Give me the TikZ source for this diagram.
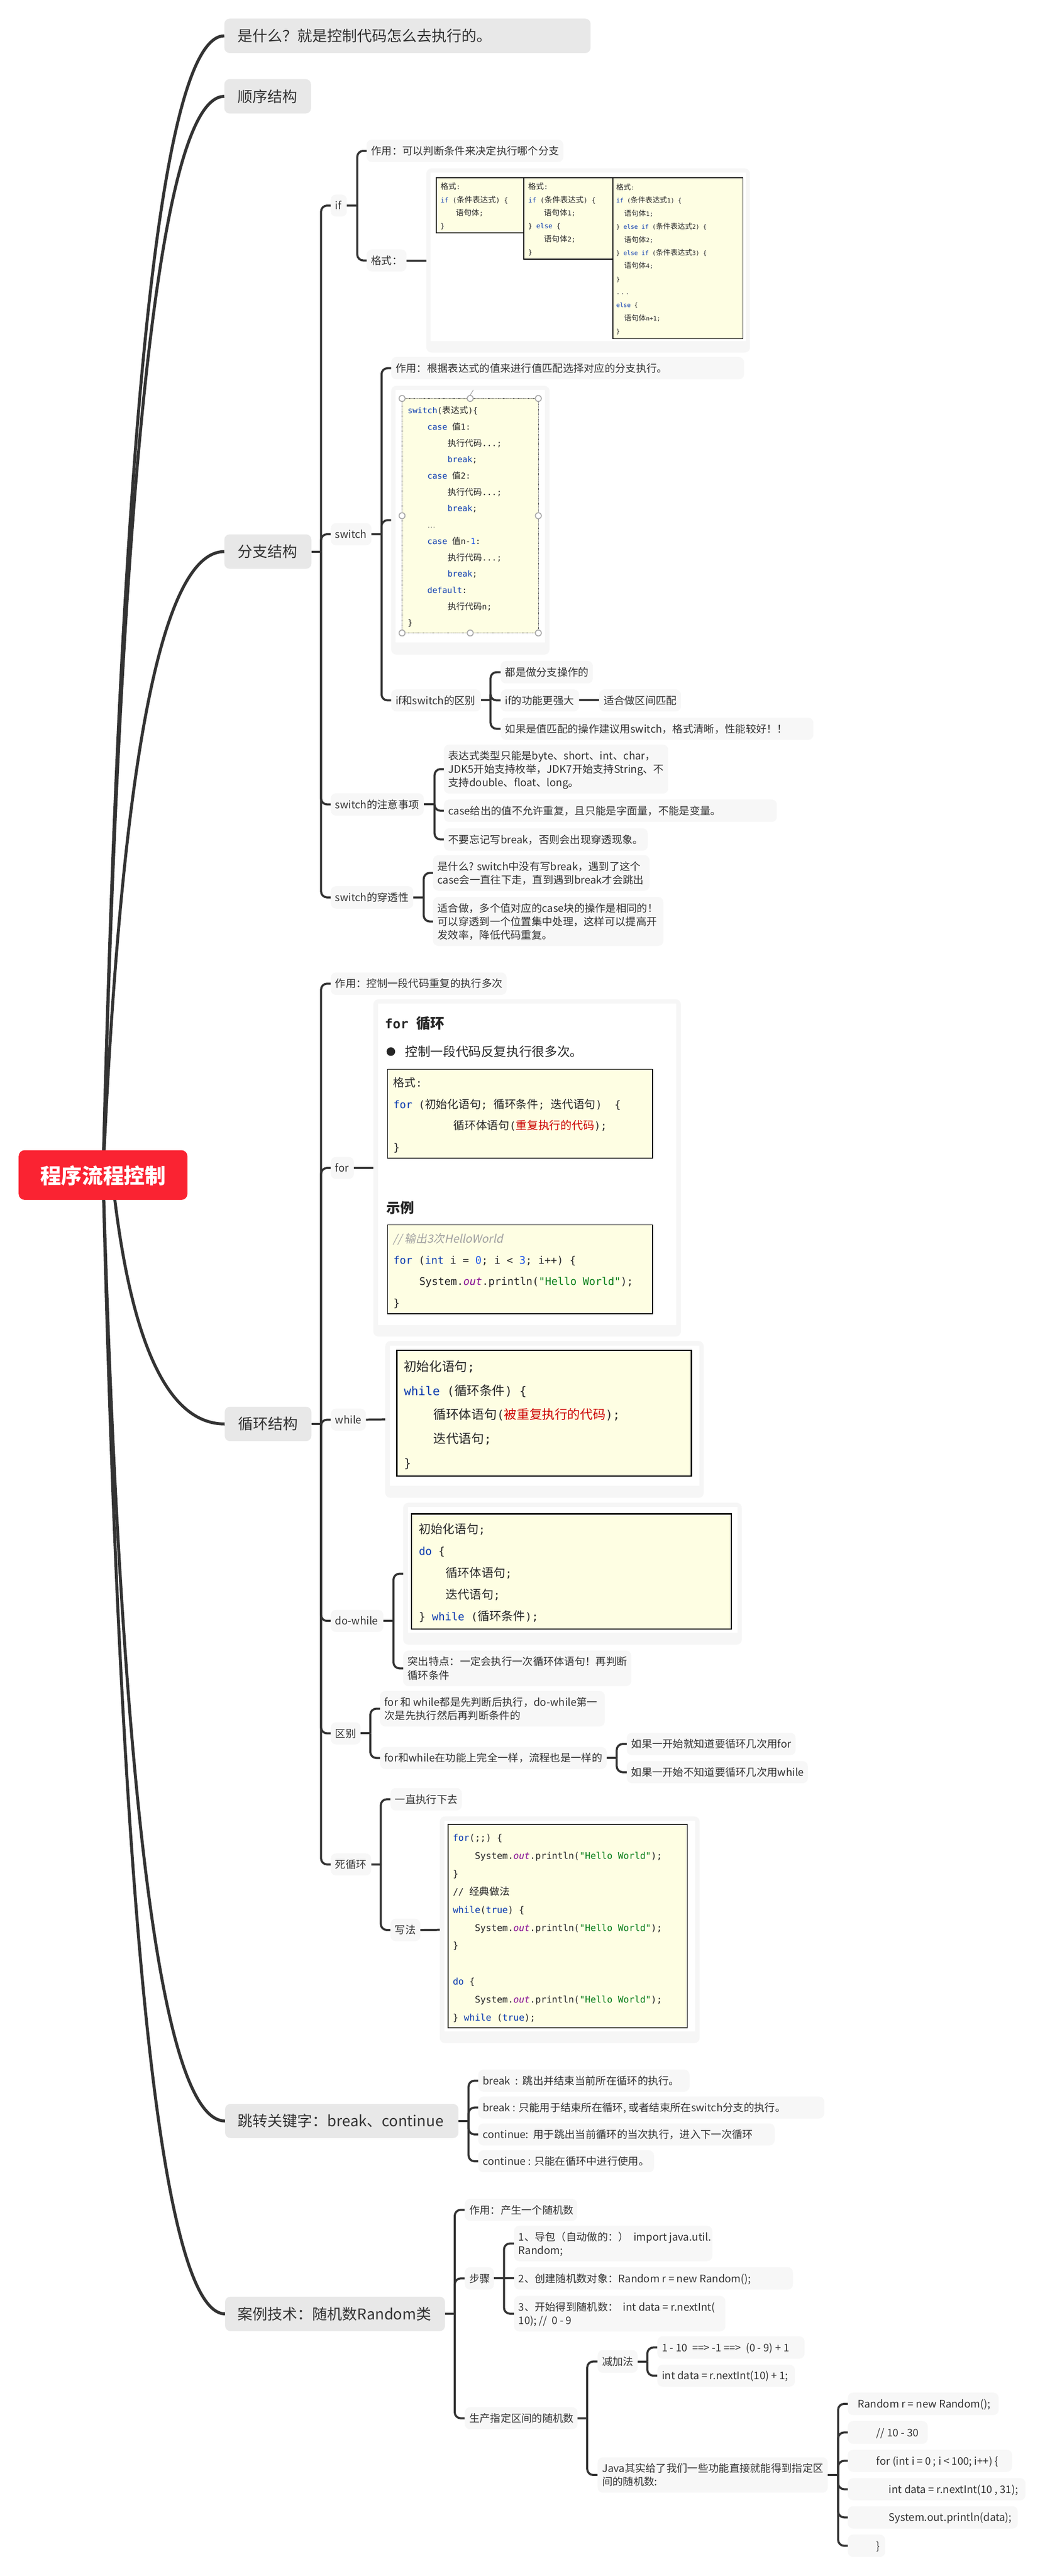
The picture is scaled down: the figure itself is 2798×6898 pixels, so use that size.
\documentclass[tikz,border=0pt]{standalone}
\usepackage{fontspec}
\usetikzlibrary{calc,backgrounds}
\setmainfont{Noto Sans CJK SC}
\newfontfamily\monof{DejaVu Sans Mono}
\newfontfamily\slantf[FakeSlant=0.2]{Noto Sans CJK SC}
\definecolor{ink}{HTML}{333333}
\definecolor{lvone}{HTML}{E8E8E8}
\definecolor{lvtwo}{HTML}{F7F7F7}
\definecolor{framec}{HTML}{F6F6F6}
\definecolor{rootc}{HTML}{FA2332}
\definecolor{yel}{HTML}{FEFEE3}
\definecolor{kw}{HTML}{0B3BB0}
\definecolor{strc}{HTML}{067D17}
\definecolor{outc}{HTML}{871094}
\definecolor{numc}{HTML}{1750EB}
\definecolor{redc}{HTML}{CC0000}
\definecolor{cmt}{HTML}{A0A0A0}
\newcommand\Cco{\char"FF1A\relax}
\newcommand\Ccm{\char"FF0C\relax}
\newcommand\Cex{\char"FF01\relax}
\newcommand\Cqu{\char"FF1F\relax}
\newcommand\Clp{\char"FF08\relax}
\newcommand\Crp{\char"FF09\relax}
\def\mfs{22}
\def\ndex{0}
\newcommand\M[1]{{\monof\fontsize{\mfs}{\mfs}\selectfont #1}}
\newcommand\K[1]{\textcolor{kw}{\M{#1}}}
\newcommand\St[1]{\textcolor{strc}{\M{#1}}}
\newcommand\Ou[1]{\textcolor{outc}{\M{\itshape #1}}}
\newcommand\Nu[1]{\textcolor{numc}{\M{#1}}}
\newcommand\I[1]{\hspace*{#1pt}}
\newsavebox\ndbox
\makeatletter
\newcommand\nd[8][12]{%
  \pgfmathsetmacro\ndw{#5-#3}\pgfmathsetmacro\ndh{#6-#4}%
  \pgfmathsetmacro\ndx{(#3+#5)/2}\pgfmathsetmacro\ndy{(#4+#6)/2}%
  \pgfmathsetmacro\ndt{#5-#3-2*#1}%
  \node[#7,inner xsep=#1pt,inner ysep=0pt,outer sep=0pt,minimum width=\ndw pt,minimum height=\ndh pt] (#2) at (\ndx,\ndy)
  {\sbox\ndbox{\begin{tabular}{@{}l@{}}#8\end{tabular}}\makebox[\ndt pt][l]{\raisebox{\dimexpr .5\dp\ndbox-.5\ht\ndbox-0.38\dimexpr\f@size pt\relax+0.2\baselineskip-\ndex pt\relax}[0pt][0pt]{\usebox\ndbox}}};%
}
\makeatother
\newcommand\conn[3]{\draw[link] (#1.east) -- ++(#3,0); \draw[link,rounded corners=16pt] (#1.east) ++(#3,0) |- (#2.west);}
\newcommand\sconn[2]{\draw[link] (#1.east) -- (#2.west);}
\newcommand\rootcurve[4]{\draw[rootlink] (#1) .. controls ($(#1)!0.667!(#3,#4)$) and ($(#2.west)!0.667!(#3,#4)$) .. (#2.west);}
\tikzset{
  link/.style={draw=ink,line width=5.5pt},
  rootlink/.style={draw=ink,line width=8pt},
  leaf/.style={fill=lvtwo,rounded corners=14pt,text=ink,font=\fontsize{28}{36}\selectfont},
  big/.style={fill=lvone,rounded corners=14pt,text=ink,font=\fontsize{40}{48}\selectfont},
  rootn/.style={fill=rootc,rounded corners=16pt,text=white,font=\fontsize{56}{66}\selectfont\bfseries},
  framen/.style={fill=framec,rounded corners=14pt},
  whiten/.style={fill=white},
  code/.style={fill=yel,draw=black,line width=#1,text=black!85},
  handle/.style={circle,fill=white,draw=black!35,line width=2.5pt,minimum size=16pt,inner sep=0pt},
  plainn/.style={text=black!85},
}
\begin{document}
\begin{tikzpicture}[x=1pt,y=-1pt]
\useasboundingbox (0,0) rectangle (2798,6898);
% root and first level
\nd[58]{root}{50}{3080}{502}{3213}{rootn}{程序流程控制}
\coordinate (rs) at (276,3146);
\coordinate (rl) at (300,3146);
\nd[36]{a1}{601}{50}{1582}{142}{big}{是什么\Cqu 就是控制代码怎么去执行的。}
\nd[36]{a2}{601}{212}{833}{304}{big}{顺序结构}
\nd[36]{a3}{601}{1431}{834}{1523}{big}{分支结构}
\nd[36]{a4}{602}{3767}{834}{3859}{big}{循环结构}
\nd[34]{a5}{603}{5634}{1228}{5725}{big}{跳转关键字\Cco break、continue}
\nd[34]{a6}{603}{6150}{1192}{6242}{big}{案例技术\Cco 随机数Random类}
% if
\nd{ifn}{886}{521}{929}{580}{leaf}{if}
\nd{ifa}{982}{374}{1509}{434}{leaf}{作用\Cco 可以判断条件来决定执行哪个分支}
\nd{ifb}{982}{668}{1089}{727}{leaf}{格式\Cco}
\nd[0]{iff}{1142}{451}{2009}{944}{framen}{}
\nd[0]{ifw}{1154}{462}{1998}{913}{whiten}{}
\def\mfs{18}\def\ndex{2}
\nd[11]{c1}{1169}{476}{1403}{624}{code=2.5pt,font=\fontsize{21}{35}\selectfont}{格式\M{:}\\\K{if}\M{\ (}条件表达式\M{)\ \{}\\\I{41}语句体\M{;}\\\M{\}}}
\nd{c2}{1403}{476}{1642}{694}{code=2.5pt,font=\fontsize{21}{35}\selectfont}{格式\M{:}\\\K{if}\M{\ (}条件表达式\M{)\ \{}\\\I{42}语句体\M{1;}\\\M{\}\ }\K{else}\M{\ \{}\\\I{42}语句体\M{2;}\\\M{\}}}
\def\mfs{16}
\nd[9]{c3}{1642}{476}{1990}{907}{code=2.5pt,font=\fontsize{19.5}{35}\selectfont}{格式\M{:}\\\K{if}\M{\ (}条件表达式\M{1)\ \{}\\\I{21}语句体\M{1;}\\\M{\}\ }\K{else if}\M{\ (}条件表达式\M{2)\ \{}\\\I{21}语句体\M{2;}\\\M{\}\ }\K{else if}\M{\ (}条件表达式\M{3)\ \{}\\\I{21}语句体\M{4;}\\\M{\}}\\\M{.\,.\,.}\\\K{else}\M{\ \{}\\\I{21}语句体\M{n+1;}\\\M{\}}}
\def\ndex{0}
% switch
\nd{sw}{886}{1401}{995}{1460}{leaf}{switch}
\nd{swa}{1048}{956}{1993}{1016}{leaf}{作用\Cco 根据表达式的值来进行值匹配选择对应的分支执行。}
\nd[0]{swf}{1048}{1033}{1472}{1753}{framen}{}
\nd[0]{sww}{1060}{1044}{1460}{1721}{whiten}{}
\def\mfs{22}\def\ndex{2}
\nd[15]{swc}{1077}{1067}{1442}{1695}{fill=yel,draw=black!80,densely dotted,line width=1.5pt,text=black!85,font=\fontsize{23}{43.7}\selectfont}{%
\K{switch}\M{(}表达式\M{)\{}\\
\I{53}\K{case\ }值\M{1:}\\
\I{107}执行代码\M{...;}\\
\I{107}\K{break}\M{;}\\
\I{53}\K{case\ }值\M{2:}\\
\I{107}执行代码\M{...;}\\
\I{107}\K{break}\M{;}\\
\I{53}{\monof\fontsize{12}{12}\selectfont ...}\\
\I{53}\K{case\ }值\M{n-}\Nu{1}\M{:}\\
\I{107}执行代码\M{...;}\\
\I{107}\K{break}\M{;}\\
\I{53}\K{default}\M{:}\\
\I{107}执行代码\M{n;}\\
\M{\}}}
\def\ndex{0}
\node[handle] (h1) at (swc.north west) {};
\node[handle] (h2) at (swc.north) {};
\node[handle] (h3) at (swc.north east) {};
\node[handle] (h4) at (swc.west) {};
\node[handle] (h5) at (swc.east) {};
\node[handle] (h6) at (swc.south west) {};
\node[handle] (h7) at (swc.south) {};
\node[handle] (h8) at (swc.south east) {};
\coordinate (stem) at (1268,1044);
\draw[black!45,line width=1.2pt] (stem) -- (h2.north);
\nd{swd}{1048}{1846}{1288}{1905}{leaf}{if和switch的区别}
\nd{swd1}{1341}{1770}{1588}{1830}{leaf}{都是做分支操作的}
\nd{swd2}{1341}{1846}{1551}{1905}{leaf}{if的功能更强大}
\nd{swd2a}{1605}{1846}{1824}{1905}{leaf}{适合做区间匹配}
\nd{swd3}{1341}{1922}{2179}{1981}{leaf}{如果是值匹配的操作建议用switch\Ccm 格式清晰\Ccm 性能较好\Cex\Cex}
\nd{swn}{886}{2124}{1135}{2184}{leaf}{switch的注意事项}
\nd{swn1}{1189}{1994}{1790}{2125}{leaf}{表达式类型只能是byte、short、int、char\Ccm\\JDK5开始支持枚举\Ccm JDK7开始支持String、不\\支持double、float、long。}
\nd{swn2}{1189}{2141}{2081}{2201}{leaf}{case给出的值不允许重复\Ccm 且只能是字面量\Ccm 不能是变量。}
\nd{swn3}{1189}{2218}{1735}{2278}{leaf}{不要忘记写break\Ccm 否则会出现穿透现象。}
\nd{swp}{886}{2373}{1107}{2433}{leaf}{switch的穿透性}
\nd{swp1}{1160}{2290}{1740}{2385}{leaf}{是什么? switch中没有写break\Ccm 遇到了这个\\case会一直往下走\Ccm 直到遇到break才会跳出}
\nd{swp2}{1160}{2402}{1777}{2533}{leaf}{适合做\Ccm 多个值对应的case块的操作是相同的\Cex\\可以穿透到一个位置集中处理\Ccm 这样可以提高开\\发效率\Ccm 降低代码重复。}
% loops
\nd{lpa}{886}{2604}{1357}{2664}{leaf}{作用\Cco 控制一段代码重复的执行多次}
\nd{forn}{886}{3098}{948}{3157}{leaf}{for}
\nd[0]{forf}{1000}{2676}{1824}{3579}{framen}{}
\nd[0]{forw}{1012}{2687}{1812}{3548}{whiten}{}
\def\mfs{35}
\nd[0]{fort}{1031}{2710}{1400}{2770}{plainn,font=\fontsize{38}{46}\selectfont\bfseries}{\M{for\ }循环}
\node[circle,fill=black!85,minimum size=23pt,inner sep=0pt] (bul) at (1047,2816) {};
\nd[0]{forb}{1085}{2790}{1700}{2842}{plainn,font=\fontsize{34}{42}\selectfont}{控制一段代码反复执行很多次。}
\def\mfs{28}\def\ndex{3}
\nd[16]{fora}{1038}{2863}{1748}{3101}{code=2pt,font=\fontsize{30}{57.5}\selectfont}{格式\M{:}\\\K{for}\M{\ (}初始化语句\M{;\ }循环条件\M{;\ }迭代语句\M{)\ \ \{}\\\I{161}循环体语句\M{(}\textcolor{redc}{重复执行的代码}\M{);}\\\M{\}}}
\def\ndex{0}
\nd[0]{fors}{1035}{3205}{1300}{3262}{plainn,font=\fontsize{37}{45}\selectfont\bfseries}{示例}
\def\ndex{3}
\nd[16]{forc}{1038}{3280}{1748}{3518}{code=2pt,font=\fontsize{30}{57}\selectfont}{{\slantf\textcolor{cmt}{// 输出3次HelloWorld}}\\\K{for}\M{\ (}\K{int}\M{\ i\ =\ }\Nu{0}\M{;\ i\ <\ }\Nu{3}\M{;\ i++)\ \{}\\\I{69}\M{System.}\Ou{out}\M{.println(}\St{"Hello World"}\M{);}\\\M{\}}}
\def\ndex{0}
\nd{wh}{886}{3772}{980}{3831}{leaf}{while}
\nd[0]{whf}{1032}{3591}{1885}{4011}{framen}{}
\nd[0]{whw}{1044}{3603}{1874}{3979}{whiten}{}
\def\mfs{32}\def\ndex{3}
\nd[19]{whc}{1063}{3616}{1852}{3953}{code=3pt,font=\fontsize{34}{64.5}\selectfont}{初始化语句\M{;}\\\K{while}\M{\ (}循环条件\M{)\ \{}\\\I{79}循环体语句\M{(}\textcolor{redc}{被重复执行的代码}\M{);}\\\I{79}迭代语句\M{;}\\\M{\}}}
\def\ndex{0}
\nd{dw}{886}{4311}{1027}{4370}{leaf}{do-while}
\nd[0]{dwf}{1080}{4024}{1987}{4404}{framen}{}
\nd[0]{dww}{1092}{4035}{1976}{4372}{whiten}{}
\def\mfs{29}\def\ndex{3}
\nd[20]{dwc}{1102}{4054}{1959}{4362}{code=3pt,font=\fontsize{32}{58.5}\selectfont}{初始化语句\M{;}\\\K{do}\M{\ \{}\\\I{72}循环体语句\M{;}\\\I{72}迭代语句\M{;}\\\M{\}\ }\K{while}\M{\ (}循环条件\M{);}}
\def\ndex{0}
\nd{dwt}{1080}{4420}{1691}{4515}{leaf}{突出特点\Cco 一定会执行一次循环体语句\Cex 再判断\\循环条件}
\nd{df}{886}{4612}{966}{4671}{leaf}{区别}
\nd{df1}{1018}{4528}{1620}{4623}{leaf}{for 和 while都是先判断后执行\Ccm do-while第一\\次是先执行然后再判断条件的}
\nd{df2}{1018}{4678}{1625}{4737}{leaf}{for和while在功能上完全一样\Ccm 流程也是一样的}
\nd{df2a}{1679}{4640}{2131}{4700}{leaf}{如果一开始就知道要循环几次用for}
\nd{df2b}{1679}{4716}{2164}{4775}{leaf}{如果一开始不知道要循环几次用while}
\nd{dl}{886}{4963}{994}{5022}{leaf}{死循环}
\nd{dla}{1046}{4788}{1237}{4848}{leaf}{一直执行下去}
\nd{dlb}{1046}{5138}{1126}{5198}{leaf}{写法}
\nd[0]{dlf}{1178}{4864}{1874}{5471}{framen}{}
\nd[0]{dlw}{1190}{4876}{1862}{5440}{whiten}{}
\def\mfs{24.5}\def\ndex{3}
\nd[13]{dlc}{1200}{4885}{1841}{5430}{code=2pt,font=\fontsize{27}{48.2}\selectfont}{%
\K{for}\M{(;;)\ \{}\\
\I{59}\M{System.}\Ou{out}\M{.println(}\St{"Hello World"}\M{);}\\
\M{\}}\\
\M{//\ }经典做法\\
\K{while}\M{(}\K{true}\M{)\ \{}\\
\I{59}\M{System.}\Ou{out}\M{.println(}\St{"Hello World"}\M{);}\\
\M{\}}\\
\\
\K{do}\M{\ \{}\\
\I{59}\M{System.}\Ou{out}\M{.println(}\St{"Hello World"}\M{);}\\
\M{\}\ }\K{while}\M{\ (}\K{true}\M{);}}
\def\ndex{0}
% break, continue
\nd{b1}{1281}{5542}{1847}{5601}{leaf}{break\ \ :\ \ 跳出并结束当前所在循环的执行。}
\nd{b2}{1281}{5614}{2208}{5673}{leaf}{break : 只能用于结束所在循环, 或者结束所在switch分支的执行。}
\nd{b3}{1281}{5686}{2075}{5745}{leaf}{continue:\ \ 用于跳出当前循环的当次执行\Ccm 进入下一次循环}
\nd{b4}{1281}{5758}{1752}{5817}{leaf}{continue : 只能在循环中进行使用。}
% random
\nd{ra}{1245}{5888}{1546}{5947}{leaf}{作用\Cco 产生一个随机数}
\nd{rb}{1245}{6071}{1323}{6131}{leaf}{步骤}
\nd{rb1}{1377}{5960}{1908}{6055}{leaf}{1、导包\Clp 自动做的\Cco\Crp\ \ import java.util.\\Random;}
\nd{rb2}{1377}{6071}{2124}{6131}{leaf}{2、创建随机数对象\Cco Random r = new Random();}
\nd{rb3}{1377}{6148}{1943}{6243}{leaf}{3、开始得到随机数\Cco\ \ int data = r.nextInt(\\10); //\ \ 0 - 9}
\nd{rc}{1245}{6446}{1547}{6505}{leaf}{生产指定区间的随机数}
\nd{rc1}{1601}{6293}{1708}{6354}{leaf}{减加法}
\nd{rc1a}{1761}{6256}{2155}{6316}{leaf}{1 - 10\ \ ==> -1 ==>\ \ (0 - 9) + 1}
\nd{rc1b}{1761}{6332}{2129}{6391}{leaf}{int data = r.nextInt(10) + 1;}
\nd{rc2}{1601}{6580}{2217}{6675}{leaf}{Java其实给了我们一些功能直接就能得到指定区\\间的随机数:}
\nd{r1}{2271}{6407}{2675}{6467}{leaf}{\I{15}Random r = new Random();}
\nd{r2}{2271}{6483}{2485}{6544}{leaf}{\I{65}// 10 - 30}
\nd{r3}{2271}{6560}{2711}{6619}{leaf}{\I{65}for (int i = 0 ; i < 100; i++) \{}
\nd{r4}{2271}{6636}{2747}{6695}{leaf}{\I{98}int data = r.nextInt(10 , 31);}
\nd{r5}{2271}{6711}{2726}{6771}{leaf}{\I{98}System.out.println(data);}
\nd{r6}{2271}{6787}{2371}{6847}{leaf}{\I{65}\}}
\begin{pgfonlayer}{background}
\fill[white] (0,0) rectangle (2798,6898);
\rootcurve{rs}{a1}{350}{96}
\rootcurve{rs}{a2}{350}{258}
\rootcurve{rs}{a3}{350}{1477}
\rootcurve{rl}{a4}{370}{3813}
\rootcurve{rs}{a5}{350}{5680}
\rootcurve{rs}{a6}{350}{6196}
\conn{a3}{ifn}{26}\conn{a3}{sw}{26}\conn{a3}{swn}{26}\conn{a3}{swp}{26}
\conn{ifn}{ifa}{28}\conn{ifn}{ifb}{28}\sconn{ifb}{iff}
\conn{sw}{swa}{27}\conn{sw}{swf}{27}\conn{sw}{swd}{27}
\conn{swd}{swd1}{26}\conn{swd}{swd2}{26}\conn{swd}{swd3}{26}\sconn{swd2}{swd2a}
\conn{swn}{swn1}{29}\conn{swn}{swn2}{29}\conn{swn}{swn3}{29}
\conn{swp}{swp1}{28}\conn{swp}{swp2}{28}
\conn{a4}{lpa}{26}\conn{a4}{forn}{26}\conn{a4}{wh}{26}\conn{a4}{dw}{26}\conn{a4}{df}{26}\conn{a4}{dl}{26}
\sconn{forn}{forf}\sconn{wh}{whf}
\conn{dw}{dwf}{27}\conn{dw}{dwt}{27}
\conn{df}{df1}{26}\conn{df}{df2}{26}
\conn{df2}{df2a}{27}\conn{df2}{df2b}{27}
\conn{dl}{dla}{26}\conn{dl}{dlb}{26}\sconn{dlb}{dlf}
\conn{a5}{b1}{27}\conn{a5}{b2}{27}\conn{a5}{b3}{27}\conn{a5}{b4}{27}
\conn{a6}{ra}{26}\conn{a6}{rb}{26}\conn{a6}{rc}{26}
\conn{rb}{rb1}{27}\sconn{rb}{rb2}\conn{rb}{rb3}{27}
\conn{rc}{rc1}{26}\conn{rc}{rc2}{26}
\conn{rc1}{rc1a}{26}\conn{rc1}{rc1b}{26}
\conn{rc2}{r1}{28}\conn{rc2}{r2}{28}\conn{rc2}{r3}{28}\conn{rc2}{r4}{28}\conn{rc2}{r5}{28}\conn{rc2}{r6}{28}
\end{pgfonlayer}
\end{tikzpicture}
\end{document}
